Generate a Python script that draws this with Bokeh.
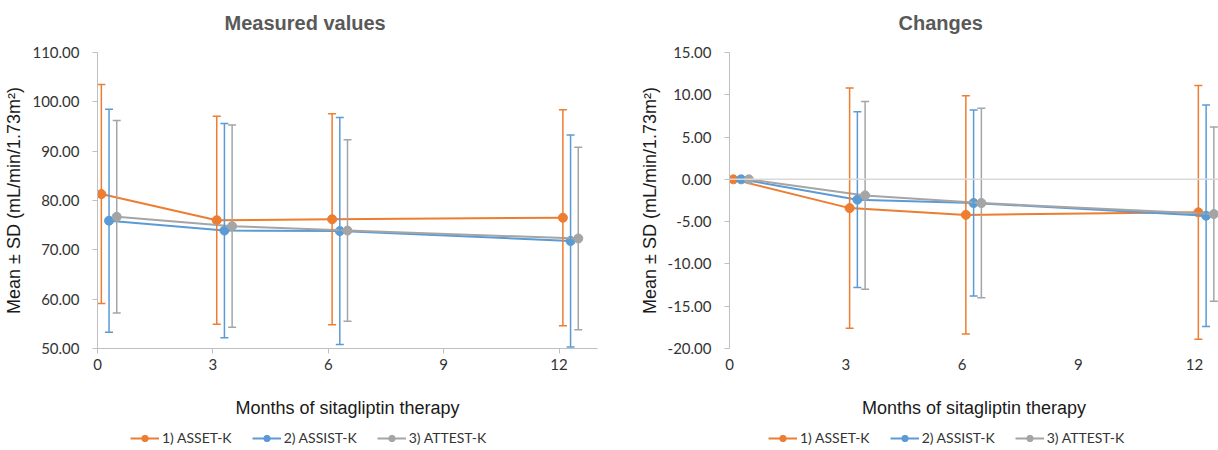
from bokeh.plotting import figure
from bokeh.models import (ColumnDataSource, Whisker, TeeHead, Range1d, FixedTicker,
                          NumeralTickFormatter, Legend, LegendItem, Span, Title)
from bokeh.layouts import row, column
from bokeh.embed import file_html
from bokeh.resources import INLINE

months = [0, 3, 6, 12]
series_names = ["1) ASSET-K", "2) ASSIST-K", "3) ATTEST-K"]
series_offsets = [0.1, 0.3, 0.5]
colors = ["#ED7D31", "#5B9BD5", "#A5A5A5"]

# Measured values (mean, SD)
measured_asset_mean = [81.3, 76.0, 76.2, 76.5]
measured_asset_sd = [22.2, 21.1, 21.4, 21.9]
measured_assist_mean = [75.9, 73.9, 73.8, 71.8]
measured_assist_sd = [22.6, 21.7, 23.0, 21.5]
measured_attest_mean = [76.7, 74.8, 73.9, 72.3]
measured_attest_sd = [19.5, 20.5, 18.4, 18.5]

# Changes from baseline (mean, SD)
change_asset_mean = [0.0, -3.4, -4.2, -3.9]
change_asset_sd = [0.0, 14.2, 14.1, 15.0]
change_assist_mean = [0.0, -2.4, -2.8, -4.3]
change_assist_sd = [0.0, 10.4, 11.0, 13.1]
change_attest_mean = [0.0, -1.9, -2.8, -4.1]
change_attest_sd = [0.0, 11.1, 11.2, 10.3]

measured_ticks = [50, 60, 70, 80, 90, 100, 110]
change_ticks = [-20, -15, -10, -5, 0, 5, 10, 15]
x_ticks = [0, 3, 6, 9, 12]

AX = "#BFBFBF"
TXT = "#333333"
TICK_FONT = "Lato"
LABEL_FONT = "Liberation Sans"


def make_panel(title, title_offset, means, sds, y_lo, y_hi, yticks, width,
               border_left, border_right, x_end, zero_axis):
    p = figure(width=width, height=426, output_backend="svg", toolbar_location=None,
               x_range=Range1d(0, x_end), y_range=Range1d(y_lo, y_hi),
               min_border_left=border_left, min_border_right=border_right,
               min_border_top=52, min_border_bottom=78)
    p.title.text = title
    p.title.align = "left"
    p.title.offset = title_offset
    p.title.standoff = 16
    p.title.text_font = LABEL_FONT
    p.title.text_font_size = "20px"
    p.title.text_font_style = "bold"
    p.title.text_color = "#595959"
    # thin spacer between the title and the plot area
    p.add_layout(Title(text=" ", text_font_size="1px", standoff=8), "above")
    p.xgrid.visible = False
    p.ygrid.visible = False
    p.outline_line_color = None

    if zero_axis:
        p.add_layout(Span(location=0, dimension="width", line_color="#D9D9D9", line_width=1.5))

    for i in range(3):
        c = colors[i]
        xs = [m + series_offsets[i] for m in months]
        ms = means[i]
        sd = sds[i]
        wx = [x for x, s in zip(xs, sd) if s > 0]
        wu = [m + s for m, s in zip(ms, sd) if s > 0]
        wl = [m - s for m, s in zip(ms, sd) if s > 0]
        wsrc = ColumnDataSource(dict(x=wx, upper=wu, lower=wl))
        w = Whisker(base="x", upper="upper", lower="lower", source=wsrc,
                    line_color=c, line_width=1.5, level="glyph",
                    upper_head=TeeHead(size=8, line_color=c, line_width=1.5),
                    lower_head=TeeHead(size=8, line_color=c, line_width=1.5))
        p.add_layout(w)
        src = ColumnDataSource(dict(x=xs, y=ms))
        p.line("x", "y", source=src, line_color=c, line_width=2)
        p.scatter("x", "y", source=src, size=9, fill_color=c, line_color=c)

    yax = p.yaxis[0]
    yax.ticker = FixedTicker(ticks=yticks)
    yax.formatter = NumeralTickFormatter(format="0.00")
    yax.axis_line_color = AX
    yax.major_tick_line_color = AX
    yax.major_tick_out = 5
    yax.major_tick_in = 0
    yax.minor_tick_line_color = None
    yax.major_label_standoff = 13
    yax.major_label_text_font = TICK_FONT
    yax.major_label_text_font_size = "15px"
    yax.major_label_text_color = TXT
    yax.axis_label = "Mean ± SD (mL/min/1.73m²)"
    yax.axis_label_text_font = LABEL_FONT
    yax.axis_label_text_font_size = "18px"
    yax.axis_label_text_font_style = "normal"
    yax.axis_label_text_color = "#1a1a1a"
    yax.axis_label_standoff = 5

    xax = p.xaxis[0]
    xax.ticker = FixedTicker(ticks=x_ticks)
    xax.minor_tick_line_color = None
    if zero_axis:
        xax.axis_line_color = None
        xax.major_tick_line_color = None
        xax.major_tick_out = 5
    else:
        xax.axis_line_color = AX
        xax.major_tick_line_color = AX
        xax.major_tick_out = 5
        xax.major_tick_in = 0
    xax.major_label_standoff = 5
    xax.major_label_text_font = TICK_FONT
    xax.major_label_text_font_size = "15px"
    xax.major_label_text_color = TXT
    xax.axis_label = "Months of sitagliptin therapy"
    xax.axis_label_text_font = LABEL_FONT
    xax.axis_label_text_font_size = "18px"
    xax.axis_label_text_font_style = "normal"
    xax.axis_label_text_color = "#1a1a1a"
    xax.axis_label_standoff = 25
    return p


def make_legend(width, legend_x):
    lp = figure(width=width, height=24, output_backend="svg", toolbar_location=None,
                x_range=Range1d(0, 1), y_range=Range1d(0, 1),
                x_axis_location=None, y_axis_location=None, min_border=0)
    lp.xgrid.visible = False
    lp.ygrid.visible = False
    lp.outline_line_color = None
    items = []
    for i in range(3):
        c = colors[i]
        # one undrawable (NaN) row so the legend can pick up the glyph styles
        proxy = ColumnDataSource(dict(x=[float("nan")], y=[float("nan")]))
        ln = lp.line("x", "y", source=proxy, line_color=c, line_width=2)
        sc = lp.scatter("x", "y", source=proxy, size=8, fill_color=c, line_color=c)
        items.append(LegendItem(label=series_names[i], renderers=[ln, sc]))
    legend = Legend(items=items, orientation="horizontal", location=(legend_x, 4),
                    border_line_color=None, background_fill_alpha=0, padding=0, margin=0,
                    spacing=20, glyph_width=29, glyph_height=16, label_standoff=3,
                    label_text_font=TICK_FONT, label_text_font_size="14px",
                    label_text_color=TXT, label_height=16)
    lp.add_layout(legend)
    return lp


p1 = make_panel("Measured values", 127,
                [measured_asset_mean, measured_assist_mean, measured_attest_mean],
                [measured_asset_sd, measured_assist_sd, measured_attest_sd],
                50, 110, measured_ticks, 620, 97, 23, 13.0, False)
p2 = make_panel("Changes", 169,
                [change_asset_mean, change_assist_mean, change_attest_mean],
                [change_asset_sd, change_assist_sd, change_attest_sd],
                -20, 15, change_ticks, 598, 109, 0, 12.62, True)
l1 = make_legend(620, 130)
l2 = make_legend(598, 148)

layout = column(row(p1, p2), row(l1, l2))
open("out.html", "w").write(file_html(layout, INLINE))
